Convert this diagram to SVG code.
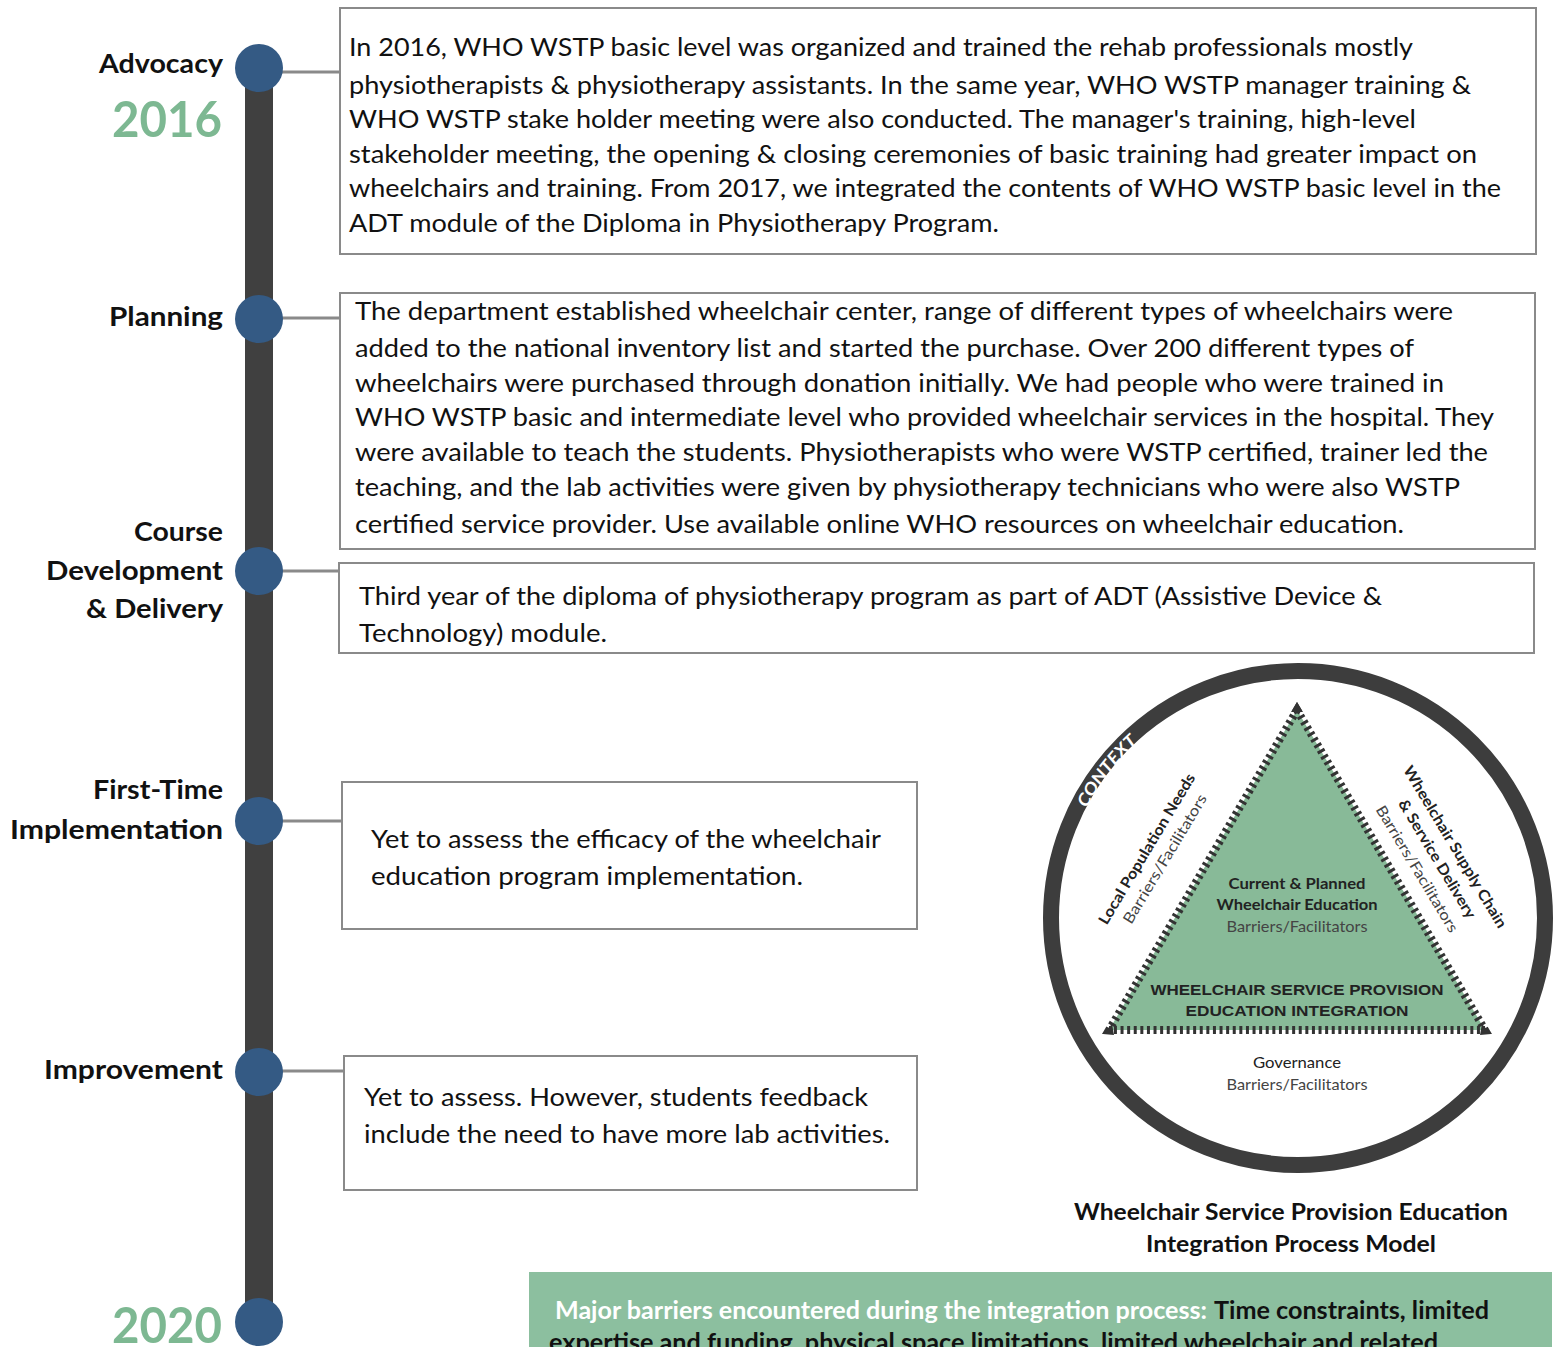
<svg xmlns="http://www.w3.org/2000/svg" width="1557" height="1347" viewBox="0 0 1557 1347">
<style>
.body{font-family:Lato,"Open Sans","Liberation Sans",sans-serif;font-size:25px;fill:#111}
.lbl{font-family:Lato,"Open Sans","Liberation Sans",sans-serif;font-size:27px;font-weight:bold;fill:#111;text-anchor:end}
.year{font-family:Lato,"Open Sans","Liberation Sans",sans-serif;font-size:49px;font-weight:bold;fill:#7db892;text-anchor:end}
.box{fill:#fff;stroke:#8a8a8a;stroke-width:2}
.conn{stroke:#8a8a8a;stroke-width:3;fill:none}
.dot{fill:#345a84}
.m{font-family:Lato,"Open Sans","Liberation Sans",sans-serif;font-size:15px;fill:#222;text-anchor:middle}
.mb{font-weight:bold}
.mg{fill:#444}
.cap{font-family:"Liberation Sans",Arial,sans-serif;font-size:15px;font-weight:bold;fill:#222;text-anchor:middle}
.title{font-family:Lato,"Open Sans","Liberation Sans",sans-serif;font-size:23px;font-weight:bold;fill:#111;text-anchor:middle}
.bar{font-family:Lato,"Open Sans","Liberation Sans",sans-serif;font-size:24px;font-weight:bold}
</style>
<defs>
<path id="ctxArc" d="M1060,918 A238,238 0 0 1 1298,680"/>
</defs>
<rect width="1557" height="1347" fill="#fff"/>

<g id="connectors">
<line class="conn" x1="280" y1="72" x2="340" y2="72"/>
<line class="conn" x1="280" y1="318" x2="340" y2="318"/>
<line class="conn" x1="280" y1="571" x2="339" y2="571"/>
<line class="conn" x1="280" y1="821" x2="342" y2="821"/>
<line class="conn" x1="280" y1="1071" x2="344" y2="1071"/>
</g>

<g id="timeline">
<rect x="245" y="68" width="28" height="1254" fill="#404040"/>
<circle class="dot" cx="259" cy="68" r="24"/>
<circle class="dot" cx="259" cy="319" r="24"/>
<circle class="dot" cx="259" cy="571" r="24"/>
<circle class="dot" cx="259" cy="821" r="24"/>
<circle class="dot" cx="259" cy="1072" r="24"/>
<circle class="dot" cx="259" cy="1322" r="24"/>
<text class="year" x="222" y="137" textLength="110" lengthAdjust="spacingAndGlyphs">2016</text>
<text class="year" x="222" y="1343" textLength="110" lengthAdjust="spacingAndGlyphs">2020</text>
</g>

<g id="advocacy">
<text class="lbl" x="223" y="73" textLength="124" lengthAdjust="spacingAndGlyphs">Advocacy</text>
<rect class="box" x="340" y="8" width="1196" height="246"/>
<text class="body" x="349" y="56" textLength="1064" lengthAdjust="spacingAndGlyphs">In 2016, WHO WSTP basic level was organized and trained the rehab professionals mostly</text>
<text class="body" x="349" y="94" textLength="1122" lengthAdjust="spacingAndGlyphs">physiotherapists &amp; physiotherapy assistants. In the same year, WHO WSTP manager training &amp;</text>
<text class="body" x="349" y="128" textLength="1067" lengthAdjust="spacingAndGlyphs">WHO WSTP stake holder meeting were also conducted. The manager's training, high-level</text>
<text class="body" x="349" y="163" textLength="1128" lengthAdjust="spacingAndGlyphs">stakeholder meeting, the opening &amp; closing ceremonies of basic training had greater impact on</text>
<text class="body" x="349" y="197" textLength="1152" lengthAdjust="spacingAndGlyphs">wheelchairs and training. From 2017, we integrated the contents of WHO WSTP basic level in the</text>
<text class="body" x="349" y="232" textLength="650" lengthAdjust="spacingAndGlyphs">ADT module of the Diploma in Physiotherapy Program.</text>
</g>

<g id="planning">
<text class="lbl" x="223" y="326" textLength="114" lengthAdjust="spacingAndGlyphs">Planning</text>
<rect class="box" x="340" y="293" width="1195" height="256"/>
<text class="body" x="355" y="320" textLength="1098" lengthAdjust="spacingAndGlyphs">The department established wheelchair center, range of different types of wheelchairs were</text>
<text class="body" x="355" y="357" textLength="1059" lengthAdjust="spacingAndGlyphs">added to the national inventory list and started the purchase. Over 200 different types of</text>
<text class="body" x="355" y="392" textLength="1089" lengthAdjust="spacingAndGlyphs">wheelchairs were purchased through donation initially. We had people who were trained in</text>
<text class="body" x="355" y="426" textLength="1139" lengthAdjust="spacingAndGlyphs">WHO WSTP basic and intermediate level who provided wheelchair services in the hospital. They</text>
<text class="body" x="355" y="461" textLength="1133" lengthAdjust="spacingAndGlyphs">were available to teach the students. Physiotherapists who were WSTP certified, trainer led the</text>
<text class="body" x="355" y="496" textLength="1105" lengthAdjust="spacingAndGlyphs">teaching, and the lab activities were given by physiotherapy technicians who were also WSTP</text>
<text class="body" x="355" y="533" textLength="1049" lengthAdjust="spacingAndGlyphs">certified service provider. Use available online WHO resources on wheelchair education.</text>
</g>

<g id="course">
<text class="lbl" x="223" y="541" textLength="89" lengthAdjust="spacingAndGlyphs">Course</text>
<text class="lbl" x="223" y="580" textLength="177" lengthAdjust="spacingAndGlyphs">Development</text>
<text class="lbl" x="223" y="618" textLength="137" lengthAdjust="spacingAndGlyphs">&amp; Delivery</text>
<rect class="box" x="339" y="563" width="1195" height="90"/>
<text class="body" x="359" y="605" textLength="1023" lengthAdjust="spacingAndGlyphs">Third year of the diploma of physiotherapy program as part of ADT (Assistive Device &amp;</text>
<text class="body" x="359" y="642" textLength="248" lengthAdjust="spacingAndGlyphs">Technology) module.</text>
</g>

<g id="first-time">
<text class="lbl" x="223" y="799" textLength="130" lengthAdjust="spacingAndGlyphs">First-Time</text>
<text class="lbl" x="223" y="839" textLength="213" lengthAdjust="spacingAndGlyphs">Implementation</text>
<rect class="box" x="342" y="782" width="575" height="147"/>
<text class="body" x="371" y="848" textLength="510" lengthAdjust="spacingAndGlyphs">Yet to assess the efficacy of the wheelchair</text>
<text class="body" x="371" y="885" textLength="432" lengthAdjust="spacingAndGlyphs">education program implementation.</text>
</g>

<g id="improvement">
<text class="lbl" x="223" y="1079" textLength="179" lengthAdjust="spacingAndGlyphs">Improvement</text>
<rect class="box" x="344" y="1056" width="573" height="134"/>
<text class="body" x="364" y="1106" textLength="504" lengthAdjust="spacingAndGlyphs">Yet to assess. However, students feedback</text>
<text class="body" x="364" y="1143" textLength="526" lengthAdjust="spacingAndGlyphs">include the need to have more lab activities.</text>
</g>

<g id="model">
<circle cx="1298" cy="918" r="247" fill="#fff" stroke="#3d3d3d" stroke-width="16"/>
<text font-family="Lato,'Open Sans',sans-serif" font-size="17" font-weight="bold" font-style="italic" fill="#fff" text-anchor="middle"><textPath href="#ctxArc" startOffset="156" textLength="84" lengthAdjust="spacingAndGlyphs">CONTEXT</textPath></text>
<path d="M1297,710 L1485,1030 L1109,1030 Z" fill="#88ba98"/>
<path d="M1297,710 L1485,1030 L1109,1030 Z" fill="none" stroke="#333" stroke-width="8" stroke-dasharray="3 3.6"/>
<path d="M1297,702 L1303,712 L1291,712 Z" fill="#333"/>
<path d="M1103,1034 L1112,1024 L1114,1035 Z" fill="#333"/>
<path d="M1491,1034 L1482,1024 L1480,1035 Z" fill="#333"/>
<text class="m mb" x="1297" y="889" textLength="137" lengthAdjust="spacingAndGlyphs">Current &amp; Planned</text>
<text class="m mb" x="1297" y="910" textLength="161" lengthAdjust="spacingAndGlyphs">Wheelchair Education</text>
<text class="m mg" x="1297" y="932" textLength="141" lengthAdjust="spacingAndGlyphs">Barriers/Facilitators</text>
<text class="cap" x="1297" y="995" textLength="293" lengthAdjust="spacingAndGlyphs">WHEELCHAIR SERVICE PROVISION</text>
<text class="cap" x="1297" y="1016" textLength="223" lengthAdjust="spacingAndGlyphs">EDUCATION INTEGRATION</text>
<text class="m" x="1297" y="1068" textLength="88" lengthAdjust="spacingAndGlyphs">Governance</text>
<text class="m mg" x="1297" y="1090" textLength="141" lengthAdjust="spacingAndGlyphs">Barriers/Facilitators</text>
<g transform="translate(1147,849) rotate(-59)"><text class="m mb" x="0" y="5" font-size="16" textLength="173" lengthAdjust="spacingAndGlyphs">Local Population Needs</text></g>
<g transform="translate(1165,859) rotate(-59)"><text class="m mg" x="0" y="5" font-size="16" textLength="148" lengthAdjust="spacingAndGlyphs">Barriers/Facilitators</text></g>
<g transform="translate(1455,847) rotate(59)"><text class="m mb" x="0" y="5" font-size="16" textLength="186" lengthAdjust="spacingAndGlyphs">Wheelchair Supply Chain</text></g>
<g transform="translate(1437,859) rotate(59)"><text class="m mb" x="0" y="5" font-size="16" textLength="136" lengthAdjust="spacingAndGlyphs">&amp; Service Delivery</text></g>
<g transform="translate(1417,869) rotate(59)"><text class="m mg" x="0" y="5" font-size="16" textLength="145" lengthAdjust="spacingAndGlyphs">Barriers/Facilitators</text></g>
<text class="title" x="1291" y="1220" textLength="434" lengthAdjust="spacingAndGlyphs">Wheelchair Service Provision Education</text>
<text class="title" x="1291" y="1252" textLength="290" lengthAdjust="spacingAndGlyphs">Integration Process Model</text>
</g>

<g id="barriers">
<rect x="529" y="1272" width="1023" height="80" fill="#8cbf9f"/>
<text class="bar" x="555" y="1319" fill="#fff" textLength="652" lengthAdjust="spacingAndGlyphs">Major barriers encountered during the integration process:</text>
<text class="bar" x="1214" y="1319" fill="#111" textLength="275" lengthAdjust="spacingAndGlyphs">Time constraints, limited</text>
<text class="bar" x="549" y="1351" fill="#111" textLength="889" lengthAdjust="spacingAndGlyphs">expertise and funding, physical space limitations, limited wheelchair and related</text>
</g>
</svg>
